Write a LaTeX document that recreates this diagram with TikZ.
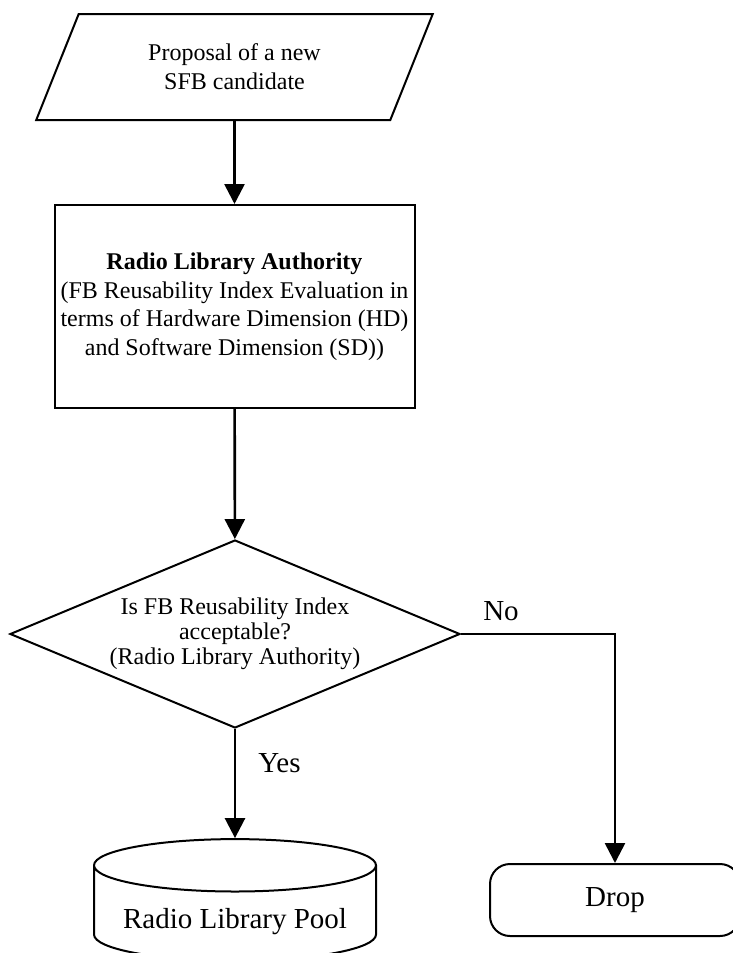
\documentclass[tikz,border=0pt]{standalone}
\usepackage{fontspec}
\setmainfont{Liberation Serif}
\usetikzlibrary{arrows.meta, shapes.geometric}

\begin{document}
\begin{tikzpicture}[x=1pt,y=-1pt,
  shp/.style={draw, line width=2pt, inner sep=0pt, align=center, font=\fontsize{24}{28.5}\selectfont},
  con/.style={line width=2.6pt, -{Triangle[length=20pt,width=20pt]}},
  lbl/.style={font=\fontsize{29}{34}\selectfont}]
\useasboundingbox (0,0) rectangle (733,953);
\node[shp, trapezium, trapezium left angle=63, trapezium right angle=117, trapezium stretches=true, minimum width=397pt, minimum height=106pt, font=\fontsize{24}{29}\selectfont] (prop) at (234.5,67) {Proposal of a new\\SFB candidate};
\node[shp, rectangle, minimum width=360pt, minimum height=203pt] (rla) at (234.5,306.5) {\textbf{Radio Library Authority}\\(FB Reusability Index Evaluation in\\terms of Hardware Dimension (HD)\\and Software Dimension (SD))};
\node[shp, diamond, aspect=2.4, minimum width=450pt, minimum height=188pt, font=\fontsize{24}{25}\selectfont] (dec) at (235,634) {Is FB Reusability Index\\acceptable?\\(Radio Library Authority)};
\node[shp, cylinder, shape border rotate=90, aspect=0.234, minimum width=282pt, minimum height=111pt, text height=36pt, text depth=6pt, lbl] (pool) at (235,913.5) {Radio Library Pool};
\node[shp, rounded corners=20pt, minimum width=250pt, minimum height=72pt, lbl] (drop) at (615,900) {Drop};
\draw[con] (prop) -- (rla);
\draw[con] (rla) -- (dec);
\draw[con] (dec) -- (pool);
\draw[con] (dec.east) -| (drop);
\node[lbl, anchor=base] (yes) at (279.5,772) {Yes};
\node[lbl, anchor=base] (no) at (501,620) {No};
\end{tikzpicture}
\end{document}
